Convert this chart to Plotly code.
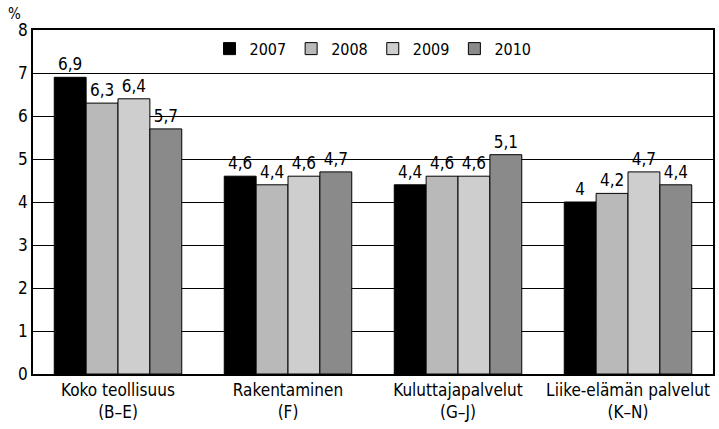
import plotly.graph_objects as go

categories = ["Koko teollisuus<br>(B–E)", "Rakentaminen<br>(F)", "Kuluttajapalvelut<br>(G–J)", "Liike-elämän palvelut<br>(K–N)"]
years = ["2007", "2008", "2009", "2010"]
values = {
    "2007": [6.9, 4.6, 4.4, 4.0],
    "2008": [6.3, 4.4, 4.6, 4.2],
    "2009": [6.4, 4.6, 4.6, 4.7],
    "2010": [5.7, 4.7, 5.1, 4.4],
}
colors = {"2007": "#000000", "2008": "#b9b9b9", "2009": "#cecece", "2010": "#8a8a8a"}

FONT = "DejaVu Sans Condensed, Liberation Sans Narrow, sans-serif"

def fnt(size):
    return dict(family=FONT, size=size, color="#000000")

fig = go.Figure()
for y in years:
    fig.add_trace(go.Bar(
        name=y, x=categories, y=values[y],
        marker=dict(color=colors[y], line=dict(color="#000000", width=1)),
        text=[str(v).replace(".", ",").replace(",0", "") for v in values[y]],
        textposition="outside", cliponaxis=False,
        textfont=fnt(17),
    ))

fig.update_layout(
    width=719, height=429,
    margin=dict(l=33, r=6, t=30, b=55),
    paper_bgcolor="white", plot_bgcolor="white",
    barmode="group", bargap=0.25, bargroupgap=0,
    font=fnt(17),
    legend=dict(orientation="h", x=0.5, xanchor="center", y=0.995, yanchor="top",
                font=fnt(16), itemwidth=30, tracegroupgap=0,
                bgcolor="rgba(0,0,0,0)"),
    showlegend=True,
)
fig.update_yaxes(range=[0, 8], dtick=1, showgrid=True, gridcolor="#000000", gridwidth=1,
                 showline=True, linecolor="#000000", linewidth=1.5, mirror=True,
                 ticks="", tickfont=fnt(17), zeroline=False, automargin=False)
fig.update_xaxes(showline=True, linecolor="#000000", linewidth=1.5, mirror=True,
                 ticks="", tickfont=fnt(17), automargin=False)
fig.add_annotation(text="%", xref="paper", yref="paper", x=-0.015, y=1.047,
                   xanchor="right", yanchor="middle", showarrow=False, font=fnt(15))

fig.write_html("out.html", config={"displayModeBar": False},
               post_script="document.body.style.margin='0';")
